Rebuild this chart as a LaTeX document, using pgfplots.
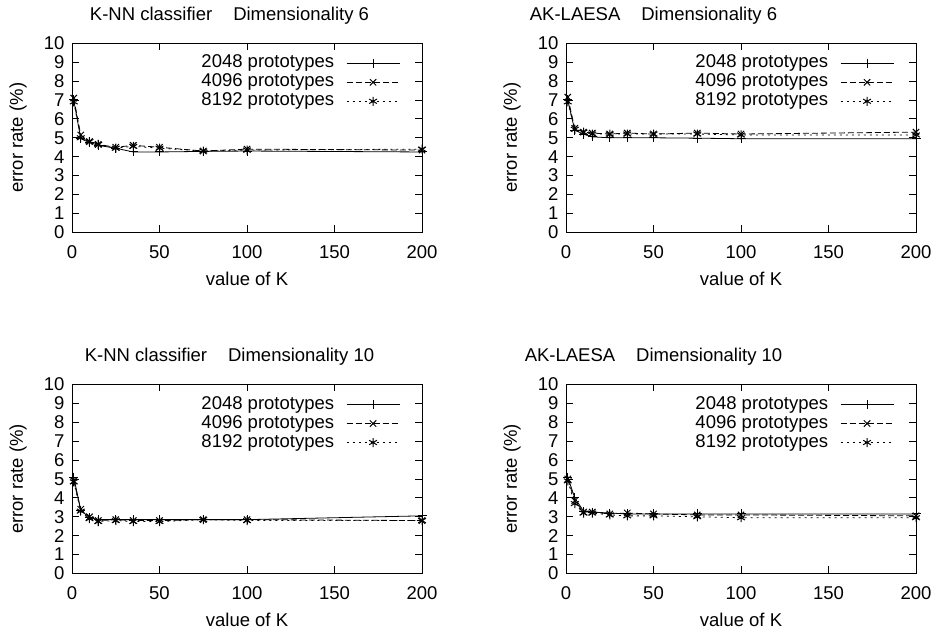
\documentclass[border=0pt]{standalone}
\usepackage{fontspec}
\setmainfont{Liberation Sans}
\usepackage{pgfplots}
\pgfplotsset{compat=1.18}

\pgfplotsset{
  gp/.style={
    scale only axis, width=350pt, height=189pt,
    anchor=south west,
    xmin=0, xmax=200, ymin=0, ymax=10,
    xtick={0,50,100,150,200}, ytick={0,1,...,10},
    tick align=inside, major tick length=7pt,
    axis line style={line width=0.9pt},
    every tick/.style={line width=0.9pt, black},
    font=\fontsize{18.5}{22}\selectfont,
    /pgf/number format/assume math mode=true,
    xticklabel style={anchor=base, yshift=-26.5pt},
    yticklabel style={xshift=-4pt},
    xlabel={value of K}, ylabel={error rate (\%)},
    xlabel style={at={(axis description cs:0.5,-0.2804)}, anchor=base},
    ylabel style={at={(axis description cs:-0.1543,0.5)}, anchor=center},
    legend cell align=right,
    legend plot pos=right,
    legend style={draw=none, fill=none, at={(axis description cs:0.937,0.939)},
      anchor=north east, inner sep=0pt, outer sep=0pt, column sep=12pt, row sep=2pt,
      nodes={inner sep=0pt, text height=13pt, text depth=4pt}},
    legend image code/.code={\draw[##1, mark repeat=2, mark phase=2] plot coordinates {(0pt,0pt) (26.5pt,0pt) (53pt,0pt)};},
  },
  s1/.style={black, line width=0.8pt, mark=+, mark size=4.5pt, mark options={line width=1pt}},
  s2/.style={black, line width=0.8pt, dash pattern=on 6pt off 3pt, mark=x, mark size=4.5pt, mark options={solid, line width=1pt}},
  s3/.style={black, line width=0.8pt, dash pattern=on 2pt off 4pt, mark=asterisk, mark size=4.5pt, mark options={solid, line width=1pt}},
}

\begin{document}
\begin{tikzpicture}[x=1pt,y=1pt]
\useasboundingbox (0,0) rectangle (935,637);

% top left
\begin{axis}[gp, at={(72pt,404.7pt)},
  title={K-NN classifier\hspace{21pt}Dimensionality 6},
  title style={at={(axis description cs:0.45,1.09)}, anchor=base}]
\addplot[s1] coordinates {(1,7.0) (5,4.95) (10,4.75) (15,4.6) (25,4.45) (35,4.25) (50,4.25) (75,4.28) (100,4.3) (200,4.25)};
\addplot[s2] coordinates {(1,7.1) (5,5.15) (10,4.8) (15,4.65) (25,4.5) (35,4.6) (50,4.5) (75,4.3) (100,4.4) (200,4.35)};
\addplot[s3] coordinates {(1,6.9) (5,5.0) (10,4.8) (15,4.65) (25,4.45) (35,4.55) (50,4.45) (75,4.3) (100,4.35) (200,4.4)};
\legend{2048 prototypes, 4096 prototypes, 8192 prototypes}
\end{axis}

% top right
\begin{axis}[gp, at={(566pt,404.7pt)},
  title={AK-LAESA\hspace{21pt}Dimensionality 6},
  title style={at={(axis description cs:0.25,1.09)}, anchor=base}]
\addplot[s1] coordinates {(1,7.0) (5,5.4) (10,5.2) (15,5.05) (25,5.0) (35,5.0) (50,5.0) (75,4.98) (100,4.95) (200,4.95)};
\addplot[s2] coordinates {(1,7.15) (5,5.5) (10,5.3) (15,5.25) (25,5.2) (35,5.25) (50,5.2) (75,5.25) (100,5.2) (200,5.3)};
\addplot[s3] coordinates {(1,6.9) (5,5.45) (10,5.3) (15,5.2) (25,5.2) (35,5.2) (50,5.2) (75,5.2) (100,5.15) (200,5.15)};
\legend{2048 prototypes, 4096 prototypes, 8192 prototypes}
\end{axis}

% bottom left
\begin{axis}[gp, at={(72pt,63.5pt)},
  title={K-NN classifier\hspace{21pt}Dimensionality 10},
  title style={at={(axis description cs:0.45,1.09)}, anchor=base}]
\addplot[s1] coordinates {(1,5.1) (5,3.35) (10,2.95) (15,2.85) (25,2.85) (35,2.85) (50,2.85) (75,2.85) (100,2.85) (200,3.05)};
\addplot[s2] coordinates {(1,4.9) (5,3.4) (10,3.0) (15,2.8) (25,2.85) (35,2.8) (50,2.8) (75,2.85) (100,2.85) (200,2.8)};
\addplot[s3] coordinates {(1,4.85) (5,3.3) (10,2.9) (15,2.75) (25,2.8) (35,2.75) (50,2.75) (75,2.85) (100,2.8) (200,2.8)};
\legend{2048 prototypes, 4096 prototypes, 8192 prototypes}
\end{axis}

% bottom right
\begin{axis}[gp, at={(566pt,63.5pt)},
  title={AK-LAESA\hspace{21pt}Dimensionality 10},
  title style={at={(axis description cs:0.25,1.09)}, anchor=base}]
\addplot[s1] coordinates {(1,5.1) (5,4.0) (10,3.3) (15,3.25) (25,3.2) (35,3.15) (50,3.15) (75,3.15) (100,3.15) (200,3.15)};
\addplot[s2] coordinates {(1,5.0) (5,3.85) (10,3.25) (15,3.25) (25,3.15) (35,3.2) (50,3.15) (75,3.1) (100,3.1) (200,3.05)};
\addplot[s3] coordinates {(1,4.9) (5,3.7) (10,3.2) (15,3.2) (25,3.1) (35,3.05) (50,3.05) (75,3.0) (100,2.95) (200,2.95)};
\legend{2048 prototypes, 4096 prototypes, 8192 prototypes}
\end{axis}
\end{tikzpicture}
\end{document}
